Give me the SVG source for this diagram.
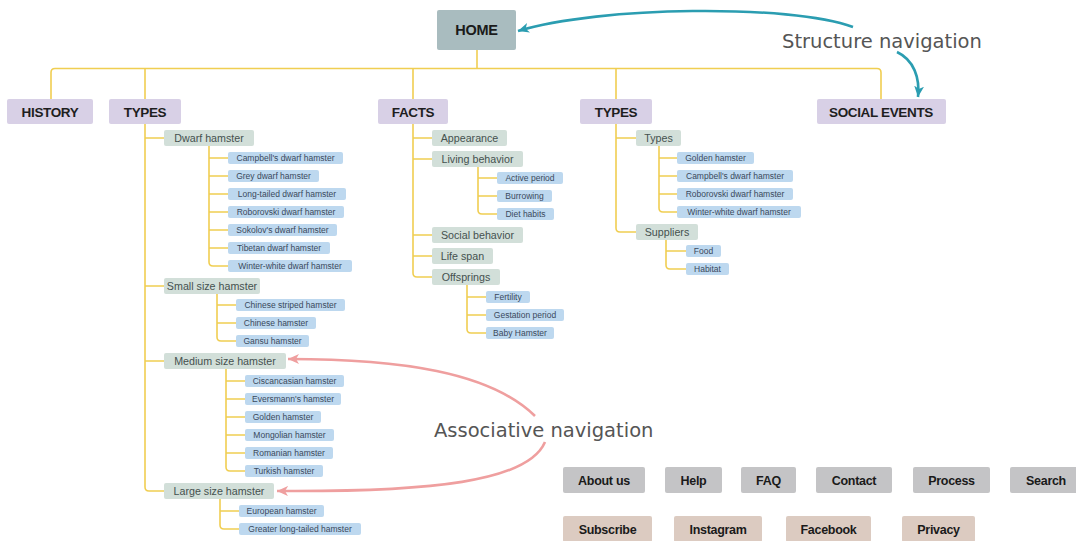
<svg xmlns="http://www.w3.org/2000/svg" width="1076" height="541" viewBox="0 0 1076 541">
<defs>
<style>
.l1 rect{fill:#d8d0e6}
.l1 text{font:bold 13.5px "Liberation Sans",Arial,sans-serif;letter-spacing:-0.35px;fill:#1e1e1e;text-anchor:middle}
.l2 rect{fill:#d2dfd9}
.l2 text{font:10.7px "Liberation Sans",Arial,sans-serif;fill:#45514f;text-anchor:middle}
.l3 rect{fill:#bdd8ef}
.l3 text{font:8.5px "Liberation Sans",Arial,sans-serif;fill:#3a495c;text-anchor:middle}
.b1 rect{fill:#c4c4c6}
.b2 rect{fill:#dccbc1}
.btn text{font:bold 12.5px "Liberation Sans",Arial,sans-serif;letter-spacing:-0.3px;fill:#1a1a1a;text-anchor:middle}
.tree{fill:none;stroke:#f0ce52;stroke-width:1.6}
.nav{fill:none;stroke-width:2.6}
.teal{stroke:#2b9db1}
.pink{stroke:#ef9f9f}
.lbl{font:19.5px "DejaVu Sans",Verdana,sans-serif;fill:#555}
</style>
<marker id="at" markerUnits="userSpaceOnUse" markerWidth="14" markerHeight="12" refX="11" refY="5" orient="auto"><path d="M0,0 L11,5 L0,10 L3,5 z" fill="#2b9db1"/></marker>
<marker id="ap" markerUnits="userSpaceOnUse" markerWidth="14" markerHeight="12" refX="11" refY="5" orient="auto"><path d="M0,0 L11,5 L0,10 L3,5 z" fill="#ef9f9f"/></marker>
</defs>
<rect width="1076" height="541" fill="#ffffff"/>
<g id="connectors">
<g class="tree">
<path d="M477,50 V68.5"/>
<path d="M51,99 V72.5 Q51,68.5 55,68.5 H877 Q881,68.5 881,72.5 V99"/>
<path d="M145,68.5 V487 Q145,491 149,491 H164 M145,138 H164 M145,286 H164 M145,361 H164"/>
<path d="M209,146 V262 Q209,266 213,266 H228 M209,158 H228 M209,176 H228 M209,194 H228 M209,212 H228 M209,230 H228 M209,248 H228"/>
<path d="M217,294 V337 Q217,341 221,341 H236 M217,305 H236 M217,323 H236"/>
<path d="M226,369 V467 Q226,471 230,471 H245 M226,381 H245 M226,399 H245 M226,417 H245 M226,435 H245 M226,453 H245"/>
<path d="M220,499 V525 Q220,529 224,529 H239 M220,511 H239"/>
<path d="M413,68.5 V273 Q413,277 417,277 H432 M413,138 H432 M413,159 H432 M413,235 H432 M413,256 H432"/>
<path d="M478,167 V210 Q478,214 482,214 H497 M478,178 H497 M478,196 H497"/>
<path d="M467,285 V329 Q467,333 471,333 H486 M467,297 H486 M467,315 H486"/>
<path d="M616,68.5 V228 Q616,232 620,232 H636 M616,138 H636"/>
<path d="M659,146 V208 Q659,212 663,212 H677 M659,158 H677 M659,176 H677 M659,194 H677"/>
<path d="M666,240 V265 Q666,269 670,269 H686 M666,251 H686"/>
</g>
<path class="nav teal" d="M853,27 C790,4 600,6 518,31" marker-end="url(#at)"/>
<path class="nav teal" d="M897,52 C914,60 920,78 918,97" marker-end="url(#at)"/>
<path class="nav pink" d="M535,416 C490,372 400,359 288,359" marker-end="url(#ap)"/>
<path class="nav pink" d="M545,442 C528,482 430,492 277,491" marker-end="url(#ap)"/>
</g>
<text class="lbl" x="782" y="47.5">Structure navigation</text>
<text class="lbl" x="434" y="436.5">Associative navigation</text>
<g id="home"><rect x="437" y="10" width="79" height="40" rx="2" fill="#a9bcbf"/><text x="476.5" y="35" style="font:bold 14.5px 'Liberation Sans',Arial,sans-serif;letter-spacing:-0.3px;fill:#1a1a1a;text-anchor:middle">HOME</text></g>
<g id="history" class="l1"><rect x="7" y="99" width="86" height="25" rx="2"/><text x="50" y="117">HISTORY</text></g>
<g id="types1" class="l1"><rect x="109" y="99" width="72" height="25" rx="2"/><text x="145" y="117">TYPES</text></g>
<g id="facts" class="l1"><rect x="378" y="99" width="70" height="25" rx="2"/><text x="413" y="117">FACTS</text></g>
<g id="types2" class="l1"><rect x="580" y="99" width="72" height="25" rx="2"/><text x="616" y="117">TYPES</text></g>
<g id="social" class="l1"><rect x="817" y="99" width="129" height="25" rx="2"/><text x="881" y="117">SOCIAL EVENTS</text></g>
<g id="dwarf" class="l2"><rect x="164" y="130" width="90" height="16" rx="2"/><text x="209" y="141.8">Dwarf hamster</text></g>
<g id="small" class="l2"><rect x="164" y="278" width="96" height="16" rx="2"/><text x="212" y="289.8">Small size hamster</text></g>
<g id="medium" class="l2"><rect x="164" y="353" width="122" height="16" rx="2"/><text x="225" y="364.8">Medium size hamster</text></g>
<g id="large" class="l2"><rect x="164" y="483" width="110" height="16" rx="2"/><text x="219" y="494.8">Large size hamster</text></g>
<g id="appearance" class="l2"><rect x="432" y="130" width="75" height="16" rx="2"/><text x="469.5" y="141.8">Appearance</text></g>
<g id="living" class="l2"><rect x="432" y="151" width="91" height="16" rx="2"/><text x="477.5" y="162.8">Living behavior</text></g>
<g id="social-b" class="l2"><rect x="432" y="227" width="91" height="16" rx="2"/><text x="477.5" y="238.8">Social behavior</text></g>
<g id="lifespan" class="l2"><rect x="432" y="248" width="61" height="16" rx="2"/><text x="462.5" y="259.8">Life span</text></g>
<g id="offsprings" class="l2"><rect x="432" y="269" width="68" height="16" rx="2"/><text x="466" y="280.8">Offsprings</text></g>
<g id="types-sub" class="l2"><rect x="636" y="130" width="45" height="16" rx="2"/><text x="658.5" y="141.8">Types</text></g>
<g id="suppliers" class="l2"><rect x="636" y="224" width="62" height="16" rx="2"/><text x="667" y="235.8">Suppliers</text></g>
<g id="d1" class="l3"><rect x="228" y="152" width="115" height="12" rx="2"/><text x="285.5" y="161">Campbell's dwarf hamster</text></g>
<g id="d2" class="l3"><rect x="228" y="170" width="91" height="12" rx="2"/><text x="273.5" y="179">Grey dwarf hamster</text></g>
<g id="d3" class="l3"><rect x="228" y="188" width="118" height="12" rx="2"/><text x="287" y="197">Long-tailed dwarf hamster</text></g>
<g id="d4" class="l3"><rect x="228" y="206" width="116" height="12" rx="2"/><text x="286" y="215">Roborovski dwarf hamster</text></g>
<g id="d5" class="l3"><rect x="228" y="224" width="109" height="12" rx="2"/><text x="282.5" y="233">Sokolov's dwarf hamster</text></g>
<g id="d6" class="l3"><rect x="228" y="242" width="102" height="12" rx="2"/><text x="279" y="251">Tibetan dwarf hamster</text></g>
<g id="d7" class="l3"><rect x="228" y="260" width="124" height="12" rx="2"/><text x="290" y="269">Winter-white dwarf hamster</text></g>
<g id="s1" class="l3"><rect x="236" y="299" width="109" height="12" rx="2"/><text x="290.5" y="308">Chinese striped hamster</text></g>
<g id="s2" class="l3"><rect x="236" y="317" width="80" height="12" rx="2"/><text x="276" y="326">Chinese hamster</text></g>
<g id="s3" class="l3"><rect x="236" y="335" width="73" height="12" rx="2"/><text x="272.5" y="344">Gansu hamster</text></g>
<g id="m1" class="l3"><rect x="245" y="375" width="99" height="12" rx="2"/><text x="294.5" y="384">Ciscancasian hamster</text></g>
<g id="m2" class="l3"><rect x="245" y="393" width="96" height="12" rx="2"/><text x="293" y="402">Eversmann's hamster</text></g>
<g id="m3" class="l3"><rect x="245" y="411" width="76" height="12" rx="2"/><text x="283" y="420">Golden hamster</text></g>
<g id="m4" class="l3"><rect x="245" y="429" width="89" height="12" rx="2"/><text x="289.5" y="438">Mongolian hamster</text></g>
<g id="m5" class="l3"><rect x="245" y="447" width="88" height="12" rx="2"/><text x="289" y="456">Romanian hamster</text></g>
<g id="m6" class="l3"><rect x="245" y="465" width="78" height="12" rx="2"/><text x="284" y="474">Turkish hamster</text></g>
<g id="g1" class="l3"><rect x="239" y="505" width="85" height="12" rx="2"/><text x="281.5" y="514">European hamster</text></g>
<g id="g2" class="l3"><rect x="239" y="523" width="122" height="12" rx="2"/><text x="300" y="532">Greater long-tailed hamster</text></g>
<g id="f1" class="l3"><rect x="497" y="172" width="66" height="12" rx="2"/><text x="530" y="181">Active period</text></g>
<g id="f2" class="l3"><rect x="497" y="190" width="55" height="12" rx="2"/><text x="524.5" y="199">Burrowing</text></g>
<g id="f3" class="l3"><rect x="497" y="208" width="57" height="12" rx="2"/><text x="525.5" y="217">Diet habits</text></g>
<g id="o1" class="l3"><rect x="486" y="291" width="44" height="12" rx="2"/><text x="508" y="300">Fertility</text></g>
<g id="o2" class="l3"><rect x="486" y="309" width="78" height="12" rx="2"/><text x="525" y="318">Gestation period</text></g>
<g id="o3" class="l3"><rect x="486" y="327" width="68" height="12" rx="2"/><text x="520" y="336">Baby Hamster</text></g>
<g id="t1" class="l3"><rect x="677" y="152" width="77" height="12" rx="2"/><text x="715.5" y="161">Golden hamster</text></g>
<g id="t2" class="l3"><rect x="677" y="170" width="116" height="12" rx="2"/><text x="735" y="179">Campbell's dwarf hamster</text></g>
<g id="t3" class="l3"><rect x="677" y="188" width="116" height="12" rx="2"/><text x="735" y="197">Roborovski dwarf hamster</text></g>
<g id="t4" class="l3"><rect x="677" y="206" width="124" height="12" rx="2"/><text x="739" y="215">Winter-white dwarf hamster</text></g>
<g id="p1" class="l3"><rect x="686" y="245" width="35" height="12" rx="2"/><text x="703.5" y="254">Food</text></g>
<g id="p2" class="l3"><rect x="686" y="263" width="43" height="12" rx="2"/><text x="707.5" y="272">Habitat</text></g>
<g id="about" class="btn b1"><rect x="563" y="467" width="82" height="26" rx="2"/><text x="604" y="484.5">About us</text></g>
<g id="help" class="btn b1"><rect x="665" y="467" width="57" height="26" rx="2"/><text x="693.5" y="484.5">Help</text></g>
<g id="faq" class="btn b1"><rect x="741" y="467" width="55" height="26" rx="2"/><text x="768.5" y="484.5">FAQ</text></g>
<g id="contact" class="btn b1"><rect x="816" y="467" width="76" height="26" rx="2"/><text x="854" y="484.5">Contact</text></g>
<g id="process" class="btn b1"><rect x="913" y="467" width="77" height="26" rx="2"/><text x="951.5" y="484.5">Process</text></g>
<g id="search" class="btn b1"><rect x="1010" y="467" width="74" height="26" rx="2"/><text x="1046" y="484.5">Search</text></g>
<g id="subscribe" class="btn b2"><rect x="563" y="516" width="89" height="26" rx="2"/><text x="607.5" y="533.5">Subscribe</text></g>
<g id="instagram" class="btn b2"><rect x="674" y="516" width="88" height="26" rx="2"/><text x="718" y="533.5">Instagram</text></g>
<g id="facebook" class="btn b2"><rect x="786" y="516" width="85" height="26" rx="2"/><text x="828.5" y="533.5">Facebook</text></g>
<g id="privacy" class="btn b2"><rect x="902" y="516" width="73" height="26" rx="2"/><text x="938.5" y="533.5">Privacy</text></g>
</svg>
